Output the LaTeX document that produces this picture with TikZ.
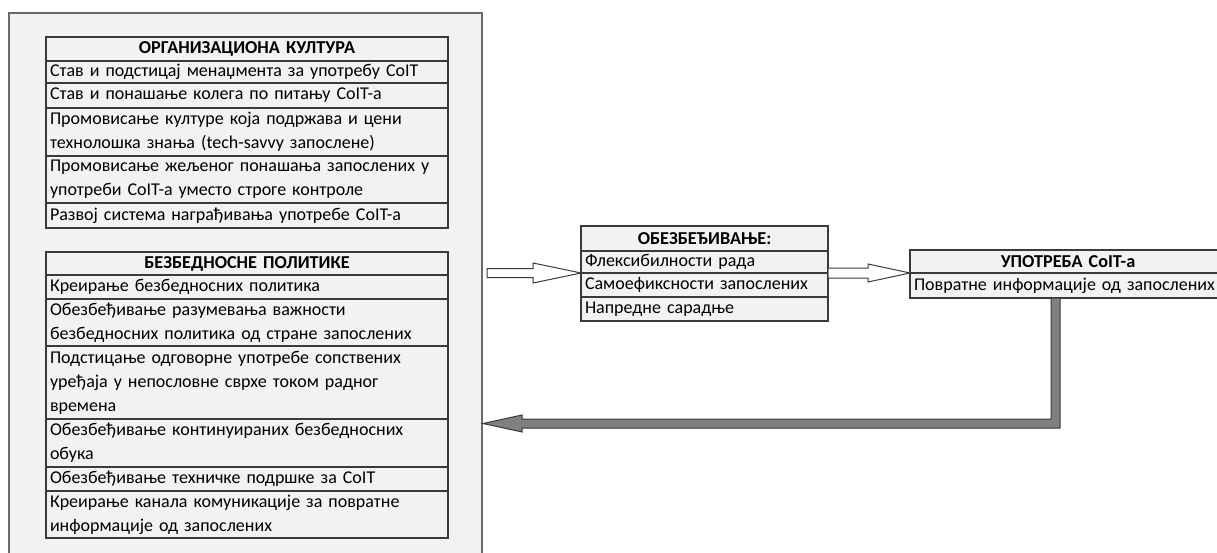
\documentclass[tikz,border=0pt]{standalone}
\usepackage{fontspec}
\setmainfont{Carlito}
\usetikzlibrary{calc}
\definecolor{cellfill}{HTML}{F2F2F2}
\definecolor{cellborder}{HTML}{3A3A3A}
\definecolor{outerborder}{HTML}{6A6A6A}
\definecolor{fbgray}{HTML}{808080}
\newcommand{\tln}[1]{\mbox{#1}}
\begin{document}
\begin{tikzpicture}[x=1pt,y=-1pt,
  cell/.style={draw=cellborder, fill=cellfill, line width=1.1pt, inner xsep=4pt, inner ysep=0pt,
    outer sep=0pt, align=left, anchor=north west, font=\fontsize{18}{24}\selectfont, text=black},
  head/.style={cell, align=center, font=\fontsize{18.2}{24}\selectfont\bfseries},
  wa/.style={text width=394pt},
  wb/.style={text width=239pt},
  wc/.style={text width=308pt},
  outerbox/.style={draw=outerborder, fill=cellfill, line width=1.6pt, anchor=north west, inner sep=0pt, outer sep=0pt},
  hollow/.style={draw=cellborder, fill=white, line width=1pt, line join=miter},
  fbarrow/.style={draw=cellborder, fill=fbgray, line width=1pt, line join=miter}
]
\useasboundingbox (0,0) rectangle (1217,553);
\fill[white] (0,0) rectangle (1217,553);

\node[outerbox, minimum width=473pt, minimum height=560pt] (outer) at (9,13) {};

% table 1
\node[head, wa, minimum height=24pt] (o0) at (46,37) {ОРГАНИЗАЦИОНА КУЛТУРА};
\node[cell, wa, minimum height=22pt] (o1) at (o0.south west) {\tln{Став и подстицај менаџмента за употребу CoIT}};
\node[cell, wa, minimum height=25pt] (o2) at (o1.south west) {\tln{Став и понашање колега по питању CoIT-а}};
\node[cell, wa, minimum height=48pt] (o3) at (o2.south west) {\tln{Промовисање културе која подржава и цени}\\\tln{технолошка знања (tech-savvy запослене)}};
\node[cell, wa, minimum height=47pt] (o4) at (o3.south west) {\tln{Промовисање жељеног понашања запослених у}\\\tln{употреби CoIT-а уместо строге контроле}};
\node[cell, wa, minimum height=25pt] (o5) at (o4.south west) {\tln{Развој система награђивања употребе CoIT-а}};

% table 2
\node[head, wa, minimum height=23pt] (b0) at (46,252) {БЕЗБЕДНОСНЕ ПОЛИТИКЕ};
\node[cell, wa, minimum height=24pt] (b1) at (b0.south west) {\tln{Креирање безбедносних политика}};
\node[cell, wa, minimum height=47pt] (b2) at (b1.south west) {\tln{Обезбеђивање разумевања важности}\\\tln{безбедносних политика од стране запослених}};
\node[cell, wa, minimum height=73pt] (b3) at (b2.south west) {\tln{Подстицање одговорне употребе сопствених}\\\tln{уређаја у непословне сврхе током радног}\\\tln{времена}};
\node[cell, wa, minimum height=48pt] (b4) at (b3.south west) {\tln{Обезбеђивање континуираних безбедносних}\\\tln{обука}};
\node[cell, wa, minimum height=24pt] (b5) at (b4.south west) {\tln{Обезбеђивање техничке подршке за CoIT}};
\node[cell, wa, minimum height=47pt] (b6) at (b5.south west) {\tln{Креирање канала комуникације за повратне}\\\tln{информације од запослених}};

% middle table
\node[head, wb, minimum height=25pt] (m0) at (581,226) {ОБЕЗБЕЂИВАЊЕ:};
\node[cell, wb, minimum height=22pt] (m1) at (m0.south west) {\tln{Флексибилности рада}};
\node[cell, wb, minimum height=24pt] (m2) at (m1.south west) {\tln{Самоефиксности запослених}};
\node[cell, wb, minimum height=24pt] (m3) at (m2.south west) {\tln{Напредне сарадње}};

% right table (runs past the right edge, as in the reference)
\node[head, wc, minimum height=23pt] (u0) at (910,250) {УПОТРЕБА CoIT-а};
\node[cell, wc, minimum height=25pt] (u1) at (u0.south west) {\tln{Повратне информације од запослених}};

% arrow 1: outer box -> middle table
\coordinate (a1s) at ($(outer.east |- m1.south)+(5,0)$);
\coordinate (a1t) at (m1.south west);
\draw[hollow] ($(a1s)+(0,-4.5)$) -- ($(a1t)+(-48,-4.5)$) -- ($(a1t)+(-48,-10)$) -- (a1t)
  -- ($(a1t)+(-48,10)$) -- ($(a1t)+(-48,4.5)$) -- ($(a1s)+(0,4.5)$) -- cycle;

% arrow 2: middle table -> right table
\coordinate (a2s) at (m1.south east);
\coordinate (a2t) at (u0.south west);
\draw[hollow] ($(a2s)+(0,-5)$) -- ($(a2t)+(-42,-5)$) -- ($(a2t)+(-42,-9)$) -- (a2t)
  -- ($(a2t)+(-42,9)$) -- ($(a2t)+(-42,5)$) -- ($(a2s)+(0,5)$) -- cycle;

% feedback arrow: right table -> outer box
\coordinate (fbs) at ($(u1.south)+(-12.5,0)$);
\coordinate (fbtip) at ($(outer.east |- 0,423.5)+(1,0)$);
\draw[fbarrow] ($(fbs)+(-4.5,0)$) -- ($(fbs |- fbtip)+(-4.5,-4.5)$) -- ($(fbtip)+(39,-4.5)$)
  -- ($(fbtip)+(39,-8.5)$) -- (fbtip) -- ($(fbtip)+(39,8.5)$) -- ($(fbtip)+(39,4.5)$)
  -- ($(fbs |- fbtip)+(4.5,4.5)$) -- ($(fbs)+(4.5,0)$) -- cycle;
\end{tikzpicture}
\end{document}
